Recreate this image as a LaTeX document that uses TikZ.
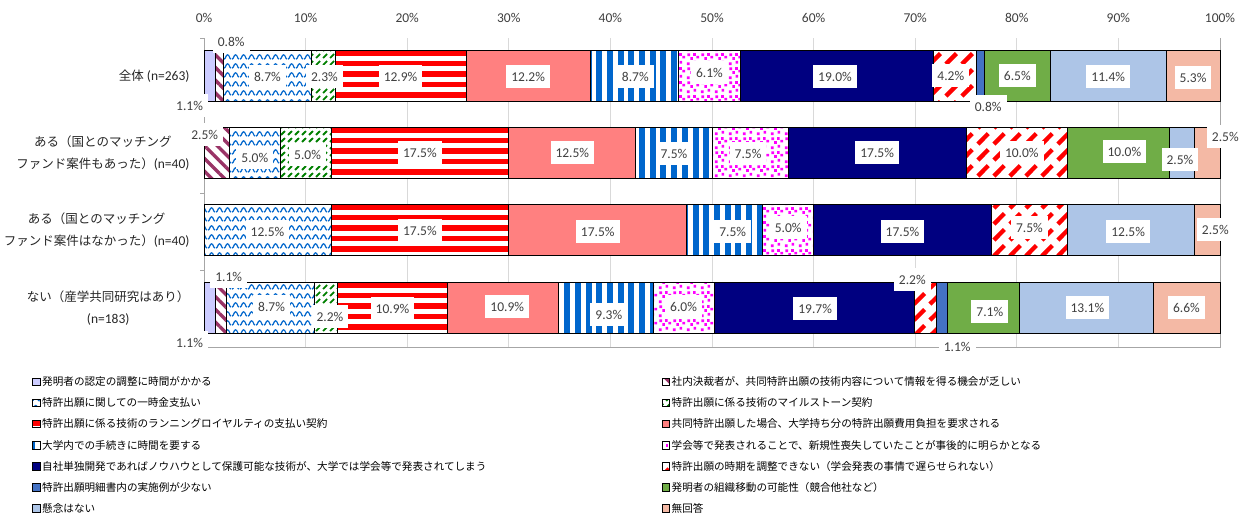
\documentclass[tikz,border=0pt]{standalone}
\usepackage{fontspec}
\setmainfont{Carlito}
\newfontfamily\jp{Noto Sans CJK JP}
\usetikzlibrary{patterns.meta}

\pgfdeclarelayer{front}
\pgfsetlayers{main,front}

\definecolor{c1}{RGB}{204,204,255}
\definecolor{c2}{RGB}{153,51,102}
\definecolor{c3}{RGB}{0,102,204}
\definecolor{c4}{RGB}{0,128,0}
\definecolor{c5}{RGB}{255,0,0}
\definecolor{c6}{RGB}{255,128,128}
\definecolor{c7}{RGB}{0,102,204}
\definecolor{c8}{RGB}{255,0,255}
\definecolor{c9}{RGB}{0,0,128}
\definecolor{c10}{RGB}{255,0,0}
\definecolor{c11}{RGB}{68,114,196}
\definecolor{c12}{RGB}{112,173,71}
\definecolor{c13}{RGB}{173,197,231}
\definecolor{c14}{RGB}{244,185,165}
\definecolor{txt}{RGB}{64,64,64}
\definecolor{gridgray}{RGB}{217,217,217}
\definecolor{axisgray}{RGB}{166,166,166}

\tikzdeclarepattern{name=wavy, type=uncolored,
  bounding box={(0pt,0pt) and (8pt,8.5pt)}, tile size={(8pt,8.5pt)},
  code={\draw[line width=1.3pt] (0pt,2pt) .. controls (2pt,2pt) and (2pt,6.5pt) .. (4pt,6.5pt)
        .. controls (6pt,6.5pt) and (6pt,2pt) .. (8pt,2pt);}}
\tikzdeclarepattern{name=greendash, type=uncolored,
  bounding box={(0pt,0pt) and (7pt,7pt)}, tile size={(7pt,7pt)},
  code={\draw[line width=2pt] (1.2pt,1.2pt) -- (5.6pt,5.6pt);}}
\tikzdeclarepattern{name=reddash, type=uncolored,
  bounding box={(0pt,0pt) and (16pt,16pt)}, tile size={(16pt,16pt)},
  code={\draw[line width=4.5pt] (2pt,2pt) -- (13pt,13pt);}}
\tikzdeclarepattern{name=confetti, type=uncolored,
  bounding box={(0pt,0pt) and (14pt,14pt)}, tile size={(14pt,14pt)},
  code={\foreach \a/\b in {1/1,8/2.5,4.5/6.5,11/8,1.5/10.5,7.5/10.8}
        {\fill (\a pt,\b pt) rectangle +(2.8pt,2.8pt);}}}

\newcommand{\jt}[1]{{\jp\fontsize{12.5}{22}\selectfont #1}}

\tikzset{
  seg/.style={draw=black, line width=0.9pt},
  s1/.style={seg, fill=c1},
  s2/.style={seg, preaction={fill=white}, pattern={Lines[angle=-45,distance=9pt,line width=3.4pt]}, pattern color=c2},
  s3/.style={seg, preaction={fill=white}, pattern=wavy, pattern color=c3},
  s4/.style={seg, preaction={fill=white}, pattern=greendash, pattern color=c4},
  s5/.style={seg, fill=white, path picture={
      \foreach \k in {0,...,4}
        \fill[c5] ([yshift={-0.5pt-\k*10.4pt}]path picture bounding box.north west)
          rectangle ([yshift={-6pt-\k*10.4pt}]path picture bounding box.north east);}},
  s6/.style={seg, fill=c6},
  s7/.style={seg, preaction={fill=white}, pattern={Lines[angle=90,distance=10.7pt,line width=6pt]}, pattern color=c7},
  s8/.style={seg, preaction={fill=white}, pattern=confetti, pattern color=c8},
  s9/.style={seg, fill=c9},
  s10/.style={seg, preaction={fill=white}, pattern=reddash, pattern color=c10},
  s11/.style={seg, fill=c11},
  s12/.style={seg, fill=c12},
  s13/.style={seg, fill=c13},
  s14/.style={seg, fill=c14},
  lbl/.style={fill=white, text=txt, font=\fontsize{13.5}{16}\selectfont, inner xsep=5pt, inner ysep=4pt, minimum height=23pt},
  tick/.style={text=txt, font=\fontsize{13.5}{16}\selectfont},
  cat/.style={anchor=east, align=center, text=black!85, font=\fontsize{13.5}{22}\selectfont},
  leg/.style={anchor=west, inner sep=0pt, font=\jp\fontsize{10.6}{12}\selectfont},
  grid/.style={gridgray, line width=0.8pt},
  axis/.style={axisgray, line width=0.9pt}
}

\begin{document}
\begin{tikzpicture}[x=1pt, y=-1pt]
  \path[use as bounding box, fill=white] (0,0) rectangle (1253,514);

  % grid and axes
  \foreach \p in {10,20,...,90} \draw[grid] ({204+10.16*\p},38) -- ({204+10.16*\p},347);
  \draw[axis] (204,38) -- (204,347) -- (1220,347) -- (1220,38);
  \foreach \y in {38,115.5,193,270.5,347} \draw[axis] (200,\y) -- (204,\y);
  \foreach \p in {0,10,...,100} \node[tick] (t\p) at ({204+10.16*\p},18) {\p\%};

  % bars
  \foreach \v/\dx/\dy [count=\i, remember=\e as \s (initially 0), evaluate=\v as \e using \s+\v] in
    {1.1/-20/30, 0.8/12/-34, 8.7/0/1, 2.3/1/1, 12.9/0/1, 12.2/0/1, 8.7/1/1, 6.1/0/-3,
     19.0/-2/1, 4.2/-4/0, 0.8/8/31, 6.5/0/0, 11.4/0/1, 5.3/0/2} {
    \ifdim\v pt>0pt
      \draw[s\i] ({204+10.16*\s},50) rectangle ({204+10.16*\e},101.5);
      \begin{pgfonlayer}{front}
        \node[lbl] (a\i) at ({204+10.16*(\s+\v/2)+\dx},{75.75+\dy}) {\v\%};
      \end{pgfonlayer}
    \fi}
  \foreach \v/\dx/\dy [count=\i, remember=\e as \s (initially 0), evaluate=\v as \e using \s+\v] in
    {0/0/0, 2.5/-12/-18, 5.0/0/5, 5.0/2/2, 17.5/0/0, 12.5/0/0, 7.5/0/1, 7.5/-2/1,
     17.5/0/0, 10.0/5/0, 0/0/0, 10.0/6/-1, 2.5/-2/7, 2.5/18/-16} {
    \ifdim\v pt>0pt
      \draw[s\i] ({204+10.16*\s},127) rectangle ({204+10.16*\e},178.5);
      \begin{pgfonlayer}{front}
        \node[lbl] (b\i) at ({204+10.16*(\s+\v/2)+\dx},{152.75+\dy}) {\v\%};
      \end{pgfonlayer}
    \fi}
  \foreach \v/\dx/\dy [count=\i, remember=\e as \s (initially 0), evaluate=\v as \e using \s+\v] in
    {0/0/0, 0/0/0, 12.5/0/2, 0/0/0, 17.5/0/1, 17.5/0/2, 7.5/8/2, 5.0/0/-2,
     17.5/0/2, 7.5/0/-2, 0/0/0, 0/0/0, 12.5/-3/2, 2.5/8/0} {
    \ifdim\v pt>0pt
      \draw[s\i] ({204+10.16*\s},204) rectangle ({204+10.16*\e},255.5);
      \begin{pgfonlayer}{front}
        \node[lbl] (c\i) at ({204+10.16*(\s+\v/2)+\dx},{229.75+\dy}) {\v\%};
      \end{pgfonlayer}
    \fi}
  \foreach \v/\dx/\dy [count=\i, remember=\e as \s (initially 0), evaluate=\v as \e using \s+\v] in
    {1.1/-20/35, 1.1/8/-31, 8.7/1/-1, 2.2/4/9, 10.9/0/1, 10.9/4/-1, 9.3/3/7, 6.0/0/-1,
     19.7/1/1, 2.2/-13/-28, 1.1/15/39, 7.1/6/4, 13.1/1/0, 6.6/0/0} {
    \ifdim\v pt>0pt
      \draw[s\i] ({204+10.16*\s},282) rectangle ({204+10.16*\e},333.5);
      \begin{pgfonlayer}{front}
        \node[lbl] (d\i) at ({204+10.16*(\s+\v/2)+\dx},{307.75+\dy}) {\v\%};
      \end{pgfonlayer}
    \fi}

  % categories
  \node[cat] (cat1) at (193,75.75) {\jt{全体} (n=263)};
  \node[cat] (cat2) at (193,153) {\jt{ある（国とのマッチング}\\\jt{ファンド案件もあった）}(n=40)};
  \node[cat] (cat3) at (193,230) {\jt{ある（国とのマッチング}\\\jt{ファンド案件はなかった）}(n=40)};
  \node[cat] (cat4) at (193,308) {\jt{ない（産学共同研究はあり）}\\(n=183)};

  % legend
  \foreach \t [count=\k, evaluate=\k as \sid using int(2*\k-1)] in
    {発明者の認定の調整に時間がかかる, 特許出願に関しての一時金支払い,
     特許出願に係る技術のランニングロイヤルティの支払い契約, 大学内での手続きに時間を要する,
     自社単独開発であればノウハウとして保護可能な技術が、大学では学会等で発表されてしまう,
     特許出願明細書内の実施例が少ない, 懸念はない} {
    \draw[s\sid, line width=0.5pt] (32.5,{378+21.1*(\k-1)}) rectangle +(7.5,7.5);
    \node[leg] (l\sid) at (42,{381.75+21.1*(\k-1)}) {\t};
  }
  \foreach \t [count=\k, evaluate=\k as \sid using int(2*\k)] in
    {社内決裁者が、共同特許出願の技術内容について情報を得る機会が乏しい, 特許出願に係る技術のマイルストーン契約,
     共同特許出願した場合、大学持ち分の特許出願費用負担を要求される,
     学会等で発表されることで、新規性喪失していたことが事後的に明らかとなる,
     特許出願の時期を調整できない（学会発表の事情で遅らせられない）,
     発明者の組織移動の可能性（競合他社など）, 無回答} {
    \draw[s\sid, line width=0.5pt] (662,{378+21.1*(\k-1)}) rectangle +(7.5,7.5);
    \node[leg] (l\sid) at (671.5,{381.75+21.1*(\k-1)}) {\t};
  }
\end{tikzpicture}
\end{document}
